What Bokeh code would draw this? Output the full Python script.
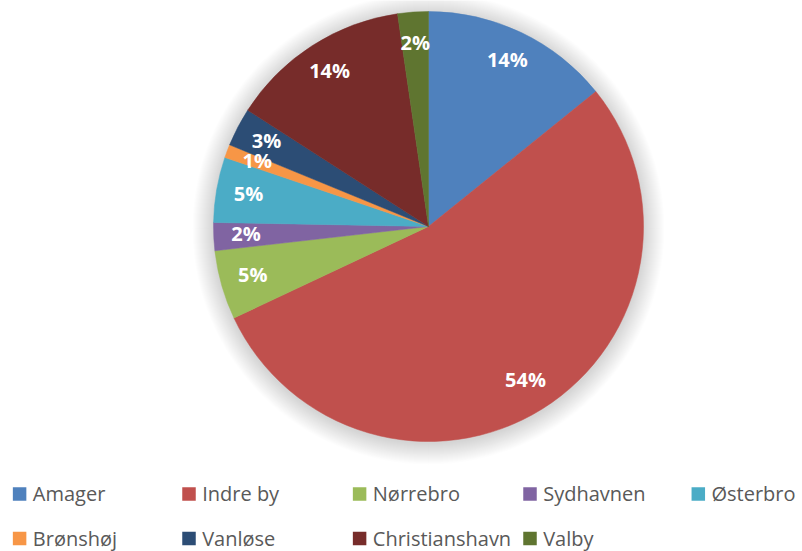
import numpy as np
from bokeh.plotting import figure
from bokeh.models import ColumnDataSource, Range1d
from bokeh.core.properties import value
from bokeh.embed import file_html
from bokeh.resources import INLINE

# ---- data ----
categories = ["Amager", "Indre by", "Nørrebro", "Sydhavnen", "Østerbro",
              "Brønshøj", "Vanløse", "Christianshavn", "Valby"]
shares = [14.2, 53.8, 5.2, 2.1, 4.9, 1.0, 2.9, 13.6, 2.3]
colors = ["#4F81BD", "#C0504D", "#9BBB59", "#8064A2", "#4BACC6",
          "#F79646", "#2C4D75", "#772C2A", "#5F7530"]

W, H = 802, 551
p = figure(width=W, height=H, output_backend="svg", toolbar_location=None,
           x_range=Range1d(0, W), y_range=Range1d(0, H), min_border=0)
p.axis.visible = False
p.grid.visible = False
p.outline_line_color = None
p.background_fill_color = "white"

# pie geometry
cx, cy, R = 428, 325, 215

# soft shadow
for k in range(1, 22):
    p.circle(x=cx, y=cy - 2, radius=R + k, fill_color="black",
             fill_alpha=0.008, line_color=None)

vals = np.array(shares, dtype=float)
frac = vals / vals.sum()
cum_end = np.cumsum(frac)
cum_start = cum_end - frac
start = np.pi / 2 - cum_start * 2 * np.pi
end = np.pi / 2 - cum_end * 2 * np.pi
mid = (start + end) / 2
lr = 0.85 * R
src = ColumnDataSource(dict(
    cat=categories, start=start, end=end, color=colors,
    lx=cx + lr * np.cos(mid), ly=cy + lr * np.sin(mid) + 2,
    lab=[f"{round(f * 100)}%" for f in frac],
))
p.wedge(x=cx, y=cy, radius=R, start_angle="start", end_angle="end",
        direction="clock", fill_color="color", line_color="color",
        line_width=0.5, source=src)
p.text(x="lx", y="ly", text="lab", source=src, text_color="white",
       text_font=value("Open Sans"), text_font_style="bold",
       text_font_size="20px", text_align="center", text_baseline="middle")

# legend (5 per row)
idx = np.arange(len(categories))
col = idx % 5
row = idx // 5
col_x = np.array([12.3, 181.7, 352.3, 522.7, 691.0])
leg = ColumnDataSource(dict(
    sx=col_x[col] + 6.8, sy=np.where(row == 0, 57.5, 13.0),
    tx=col_x[col] + 20, ty=np.where(row == 0, 58.0, 13.3),
    cat=categories, color=colors,
))
p.rect(x="sx", y="sy", width=13.5, height=13.5, fill_color="color",
       line_color=None, source=leg)
p.text(x="tx", y="ty", text="cat", source=leg, text_color="#595959",
       text_font=value("Open Sans"), text_font_size="20px",
       text_align="left", text_baseline="alphabetic")

open("out.html", "w").write(file_html(p, INLINE))
